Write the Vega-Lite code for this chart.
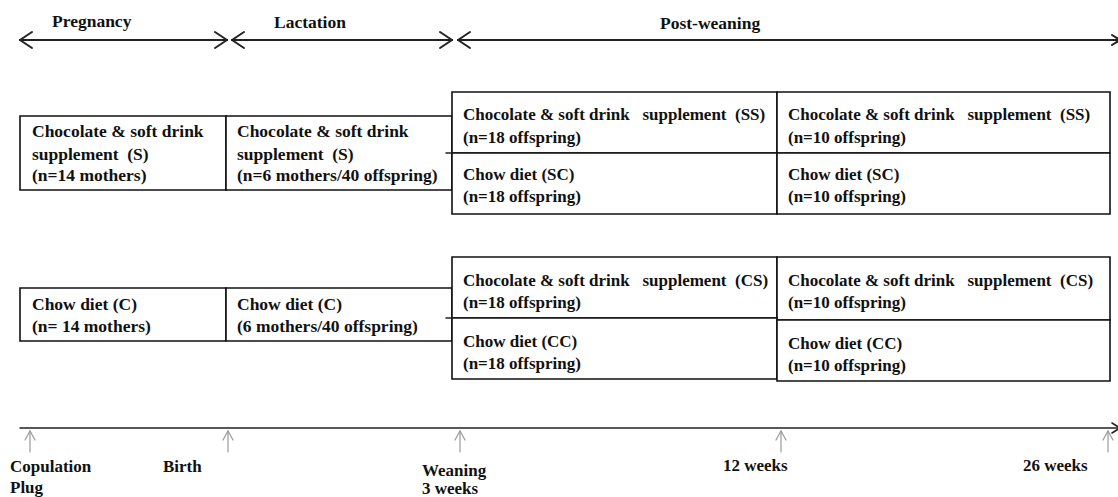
{
  "$schema": "https://vega.github.io/schema/vega-lite/v6.json",
  "width": 1118,
  "height": 497,
  "padding": 0,
  "autosize": {"type": "none"},
  "background": "white",
  "config": {"view": {"stroke": null}},
  "datasets": {
    "boxes": [
      {"x1": 20, "x2": 226, "y1": 116, "y2": 190},
      {"x1": 226, "x2": 452, "y1": 116, "y2": 190},
      {"x1": 452, "x2": 777, "y1": 92, "y2": 153},
      {"x1": 777, "x2": 1110, "y1": 92, "y2": 153},
      {"x1": 452, "x2": 777, "y1": 153, "y2": 214},
      {"x1": 777, "x2": 1110, "y1": 153, "y2": 214},
      {"x1": 20, "x2": 226, "y1": 288, "y2": 341},
      {"x1": 226, "x2": 452, "y1": 288, "y2": 341},
      {"x1": 452, "x2": 777, "y1": 257, "y2": 318},
      {"x1": 777, "x2": 1110, "y1": 257, "y2": 320},
      {"x1": 452, "x2": 777, "y1": 318, "y2": 379},
      {"x1": 777, "x2": 1110, "y1": 320, "y2": 381}
    ],
    "segs": [
      {"x1": 20, "y1": 40, "x2": 227, "y2": 40, "c": "#222", "w": 2},
      {"x1": 20, "y1": 40, "x2": 32, "y2": 32, "c": "#222", "w": 2},
      {"x1": 20, "y1": 40, "x2": 32, "y2": 48, "c": "#222", "w": 2},
      {"x1": 227, "y1": 40, "x2": 215, "y2": 32, "c": "#222", "w": 2},
      {"x1": 227, "y1": 40, "x2": 215, "y2": 48, "c": "#222", "w": 2},
      {"x1": 232, "y1": 40, "x2": 452, "y2": 40, "c": "#222", "w": 2},
      {"x1": 232, "y1": 40, "x2": 244, "y2": 32, "c": "#222", "w": 2},
      {"x1": 232, "y1": 40, "x2": 244, "y2": 48, "c": "#222", "w": 2},
      {"x1": 452, "y1": 40, "x2": 440, "y2": 32, "c": "#222", "w": 2},
      {"x1": 452, "y1": 40, "x2": 440, "y2": 48, "c": "#222", "w": 2},
      {"x1": 458, "y1": 40, "x2": 1118, "y2": 40, "c": "#222", "w": 2},
      {"x1": 458, "y1": 40, "x2": 470, "y2": 32, "c": "#222", "w": 2},
      {"x1": 458, "y1": 40, "x2": 470, "y2": 48, "c": "#222", "w": 2},
      {"x1": 1120, "y1": 40, "x2": 1112, "y2": 35, "c": "#222", "w": 2},
      {"x1": 1120, "y1": 40, "x2": 1112, "y2": 45, "c": "#222", "w": 2},
      {"x1": 446, "y1": 153, "x2": 452, "y2": 153, "c": "#222", "w": 1.5},
      {"x1": 446, "y1": 318, "x2": 452, "y2": 318, "c": "#222", "w": 1.5},
      {"x1": 20, "y1": 428, "x2": 1118, "y2": 428, "c": "#222", "w": 1.5},
      {"x1": 1120, "y1": 428, "x2": 1112, "y2": 423, "c": "#222", "w": 1.5},
      {"x1": 1120, "y1": 428, "x2": 1112, "y2": 433, "c": "#222", "w": 1.5},
      {"x1": 30, "y1": 452, "x2": 30, "y2": 431, "c": "#999", "w": 1.2},
      {"x1": 30, "y1": 431, "x2": 25, "y2": 440, "c": "#999", "w": 1.2},
      {"x1": 30, "y1": 431, "x2": 35, "y2": 440, "c": "#999", "w": 1.2},
      {"x1": 228, "y1": 452, "x2": 228, "y2": 431, "c": "#999", "w": 1.2},
      {"x1": 228, "y1": 431, "x2": 223, "y2": 440, "c": "#999", "w": 1.2},
      {"x1": 228, "y1": 431, "x2": 233, "y2": 440, "c": "#999", "w": 1.2},
      {"x1": 460, "y1": 452, "x2": 460, "y2": 431, "c": "#999", "w": 1.2},
      {"x1": 460, "y1": 431, "x2": 455, "y2": 440, "c": "#999", "w": 1.2},
      {"x1": 460, "y1": 431, "x2": 465, "y2": 440, "c": "#999", "w": 1.2},
      {"x1": 781, "y1": 452, "x2": 781, "y2": 431, "c": "#999", "w": 1.2},
      {"x1": 781, "y1": 431, "x2": 776, "y2": 440, "c": "#999", "w": 1.2},
      {"x1": 781, "y1": 431, "x2": 786, "y2": 440, "c": "#999", "w": 1.2},
      {"x1": 1108, "y1": 452, "x2": 1108, "y2": 431, "c": "#999", "w": 1.2},
      {"x1": 1108, "y1": 431, "x2": 1103, "y2": 440, "c": "#999", "w": 1.2},
      {"x1": 1108, "y1": 431, "x2": 1113, "y2": 440, "c": "#999", "w": 1.2}
    ],
    "texts": [
      {"x": 52, "y": 22, "t": "Pregnancy", "s": 17.5},
      {"x": 274, "y": 23, "t": "Lactation", "s": 17.5},
      {"x": 660, "y": 24, "t": "Post-weaning", "s": 17.5},
      {"x": 32, "y": 132, "t": "Chocolate & soft drink", "s": 17.5},
      {"x": 32, "y": 155, "t": "supplement\u00a0 (S)", "s": 17.5},
      {"x": 32, "y": 176, "t": "(n=14 mothers)", "s": 17.5},
      {"x": 237, "y": 132, "t": "Chocolate & soft drink", "s": 17.5},
      {"x": 237, "y": 155, "t": "supplement\u00a0 (S)", "s": 17.5},
      {"x": 237, "y": 176, "t": "(n=6 mothers/40 offspring)", "s": 17.5},
      {"x": 463, "y": 115, "t": "Chocolate & soft drink\u00a0\u00a0 supplement\u00a0 (SS)", "s": 17},
      {"x": 463, "y": 138, "t": "(n=18 offspring)", "s": 17},
      {"x": 788, "y": 115, "t": "Chocolate & soft drink\u00a0\u00a0 supplement\u00a0 (SS)", "s": 17},
      {"x": 788, "y": 138, "t": "(n=10 offspring)", "s": 17},
      {"x": 463, "y": 175, "t": "Chow diet (SC)", "s": 17},
      {"x": 463, "y": 197, "t": "(n=18 offspring)", "s": 17},
      {"x": 788, "y": 175, "t": "Chow diet (SC)", "s": 17},
      {"x": 788, "y": 197, "t": "(n=10 offspring)", "s": 17},
      {"x": 32, "y": 305, "t": "Chow diet (C)", "s": 17.5},
      {"x": 32, "y": 327, "t": "(n= 14 mothers)", "s": 17.5},
      {"x": 237, "y": 305, "t": "Chow diet (C)", "s": 17.5},
      {"x": 237, "y": 327, "t": "(6 mothers/40 offspring)", "s": 17.5},
      {"x": 463, "y": 281, "t": "Chocolate & soft drink\u00a0\u00a0 supplement\u00a0 (CS)", "s": 17},
      {"x": 463, "y": 303, "t": "(n=18 offspring)", "s": 17},
      {"x": 788, "y": 281, "t": "Chocolate & soft drink\u00a0\u00a0 supplement\u00a0 (CS)", "s": 17},
      {"x": 788, "y": 303, "t": "(n=10 offspring)", "s": 17},
      {"x": 463, "y": 342, "t": "Chow diet (CC)", "s": 17},
      {"x": 463, "y": 364, "t": "(n=18 offspring)", "s": 17},
      {"x": 788, "y": 344, "t": "Chow diet (CC)", "s": 17},
      {"x": 788, "y": 366, "t": "(n=10 offspring)", "s": 17},
      {"x": 10, "y": 467, "t": "Copulation", "s": 17},
      {"x": 10, "y": 488, "t": "Plug", "s": 17},
      {"x": 163, "y": 467, "t": "Birth", "s": 17},
      {"x": 422, "y": 471, "t": "Weaning", "s": 17},
      {"x": 422, "y": 489, "t": "3 weeks", "s": 17},
      {"x": 723, "y": 466, "t": "12 weeks", "s": 17},
      {"x": 1023, "y": 466, "t": "26 weeks", "s": 17}
    ]
  },
  "layer": [
    {
      "data": {"name": "boxes"},
      "mark": {"type": "rect", "fill": "white", "stroke": "#111", "strokeWidth": 1.6},
      "encoding": {
        "x": {"field": "x1", "type": "quantitative", "scale": {"domain": [0, 1118], "range": [0, 1118], "nice": false, "zero": false}, "axis": null},
        "x2": {"field": "x2"},
        "y": {"field": "y1", "type": "quantitative", "scale": {"domain": [0, 497], "range": [0, 497], "nice": false, "zero": false}, "axis": null},
        "y2": {"field": "y2"}
      }
    },
    {
      "data": {"name": "segs"},
      "mark": {"type": "rule", "strokeCap": "round"},
      "encoding": {
        "x": {"field": "x1", "type": "quantitative", "scale": {"domain": [0, 1118], "range": [0, 1118], "nice": false, "zero": false}, "axis": null},
        "x2": {"field": "x2"},
        "y": {"field": "y1", "type": "quantitative", "scale": {"domain": [0, 497], "range": [0, 497], "nice": false, "zero": false}, "axis": null},
        "y2": {"field": "y2"},
        "color": {"field": "c", "type": "nominal", "scale": null, "legend": null},
        "size": {"field": "w", "type": "quantitative", "scale": null, "legend": null}
      }
    },
    {
      "data": {"name": "texts"},
      "mark": {"type": "text", "align": "left", "baseline": "middle", "font": "'Liberation Serif', 'DejaVu Serif', serif", "fontWeight": "bold", "color": "#111"},
      "encoding": {
        "x": {"field": "x", "type": "quantitative", "scale": {"domain": [0, 1118], "range": [0, 1118], "nice": false, "zero": false}, "axis": null},
        "y": {"field": "y", "type": "quantitative", "scale": {"domain": [0, 497], "range": [0, 497], "nice": false, "zero": false}, "axis": null},
        "text": {"field": "t", "type": "nominal"},
        "size": {"field": "s", "type": "quantitative", "scale": null, "legend": null}
      }
    }
  ],
  "resolve": {"scale": {"color": "independent", "size": "independent"}}
}
